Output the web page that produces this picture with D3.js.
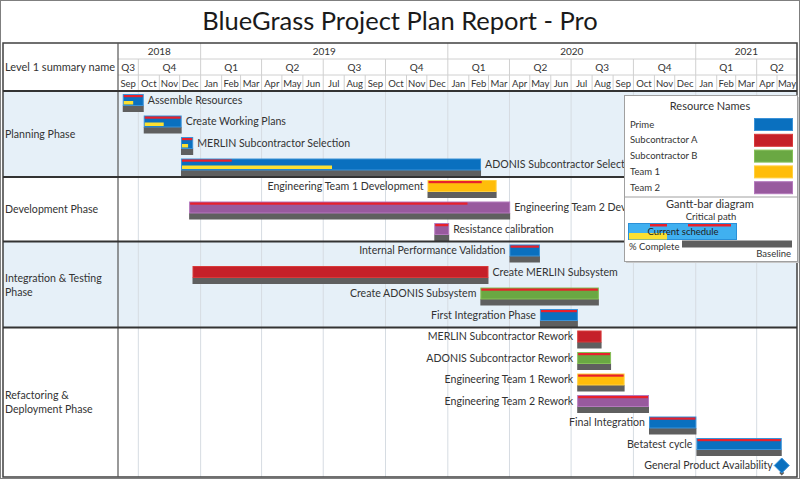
<!DOCTYPE html>
<html>
<head>
<meta charset="utf-8">
<script src="https://cdn.jsdelivr.net/npm/d3@7"></script>
<style>
  body { margin: 0; background: #fff; }
  svg { display: block; font-family: Lato, "Noto Sans", sans-serif; }
</style>
</head>
<body>
<script>
// ---- data ----
const groupLabelLines = [['Planning Phase'], ['Development Phase'], ['Integration & Testing', 'Phase'], ['Refactoring &', 'Deployment Phase']]
const groupSizes = [4, 3, 4, 7]

const taskNames = ['Assemble Resources', 'Create Working Plans', 'MERLIN Subcontractor Selection', 'ADONIS Subcontractor Selection',
  'Engineering Team 1 Development', 'Engineering Team 2 Development', 'Resistance calibration',
  'Internal Performance Validation', 'Create MERLIN Subsystem', 'Create ADONIS Subsystem', 'First Integration Phase',
  'MERLIN Subcontractor Rework', 'ADONIS Subcontractor Rework', 'Engineering Team 1 Rework', 'Engineering Team 2 Rework',
  'Final Integration', 'Betatest cycle', 'General Product Availability']
const taskResources = ['Prime', 'Prime', 'Prime', 'Prime',
  'Team 1', 'Team 2', 'Team 2',
  'Prime', 'Subcontractor A', 'Subcontractor B', 'Prime',
  'Subcontractor A', 'Subcontractor B', 'Team 1', 'Team 2', 'Prime', 'Prime', 'Prime']
const taskStarts = ['2018-09-08', '2018-10-09', '2018-12-03', '2018-12-03',
  '2019-12-02', '2018-12-15', '2019-12-12',
  '2020-04-01', '2018-12-20', '2020-02-18', '2020-05-16',
  '2020-07-10', '2020-07-10', '2020-07-10', '2020-07-10', '2020-10-24', '2021-01-02', '2021-05-08']
const taskEnds = ['2018-10-09', '2018-12-04', '2018-12-21', '2020-02-19',
  '2020-03-13', '2020-04-02', '2020-01-03',
  '2020-05-16', '2020-03-01', '2020-08-11', '2020-07-11',
  '2020-08-15', '2020-08-29', '2020-09-18', '2020-10-24', '2021-01-02', '2021-05-08', '2021-05-08']
// end of the red critical-path stripe (null = none shown)
const critEnds = ['2018-10-09', '2018-12-04', '2018-12-21', '2019-02-16',
  '2020-02-20', '2020-01-30', '2020-01-03',
  '2020-05-16', null, '2020-08-11', '2020-07-11',
  null, '2020-08-29', '2020-09-18', '2020-10-24', '2021-01-02', '2021-05-08', null]
const pctComplete = [45, 50, 50, 50, 0, 0, 0, 0, 0, 0, 0, 0, 0, 0, 0, 0, 0, 0]
const labelSide = ['right', 'right', 'right', 'right', 'left', 'right', 'right',
  'left', 'right', 'left', 'left', 'left', 'left', 'left', 'left', 'left', 'left', 'left']
const milestones = ['General Product Availability']

const resourceNames = ['Prime', 'Subcontractor A', 'Subcontractor B', 'Team 1', 'Team 2']
const resourceColors = ['#0a70bf', '#c52029', '#6aa843', '#ffbd0a', '#985a9e']
const resourceStrokes = ['#3a92d8', '#d83a3a', '#86c058', '#ffd040', '#b478bc']

const timeStart = '2018-09-01'
const timeEnd = '2021-06-01'

// ---- drawing ----
const parse = d3.timeParse('%Y-%m-%d')
const width = 800
const height = 479
const chartLeft = 118
const chartRight = 797
const chartTop = 43
const bodyTop = 91
const chartBottom = 477
const rowH = 21.5
const labelSize = 10.6

const svg = d3.select('body').append('svg')
  .attr('width', width)
  .attr('height', height)

const x = d3.scaleTime()
  .domain([parse(timeStart), parse(timeEnd)])
  .range([chartLeft, 798])

const y = d3.scaleBand()
  .domain(taskNames)
  .range([bodyTop, bodyTop + rowH * taskNames.length])

const colour = d3.scaleOrdinal().domain(resourceNames).range(resourceColors)
const strokeColour = d3.scaleOrdinal().domain(resourceNames).range(resourceStrokes)

const tasks = taskNames.map((name, i) => ({
  name,
  res: taskResources[i],
  start: parse(taskStarts[i]),
  end: parse(taskEnds[i]),
  crit: critEnds[i] ? parse(critEnds[i]) : null,
  pct: pctComplete[i],
  side: labelSide[i],
  milestone: milestones.includes(name)
}))

// outer picture border
svg.append('rect')
  .attr('x', 0.5).attr('y', 0.5)
  .attr('width', width - 1).attr('height', height - 1)
  .attr('fill', 'none').attr('stroke', '#7f7f7f')

svg.append('text')
  .attr('x', 400).attr('y', 30)
  .attr('text-anchor', 'middle')
  .attr('font-size', 25.5)
  .attr('fill', '#1a1a1a')
  .text('BlueGrass Project Plan Report - Pro')

// group backgrounds
let cum = 0
const groups = groupSizes.map((n, i) => {
  const g = { i, y0: y(taskNames[cum]), y1: y(taskNames[cum + n - 1]) + rowH, lines: groupLabelLines[i] }
  cum += n
  return g
})

svg.selectAll('rect.grp')
  .data(groups)
  .enter().append('rect')
  .attr('x', 3).attr('y', d => d.y0)
  .attr('width', chartRight - 3).attr('height', d => Math.min(d.y1, chartBottom) - d.y0)
  .attr('fill', d => d.i % 2 === 0 ? '#e6f0f8' : '#ffffff')

// quarter grid lines in body
const quarters = d3.timeMonth.every(3).range(x.domain()[0], x.domain()[1])
svg.selectAll('line.qgrid')
  .data(quarters.filter(d => +d > +x.domain()[0]))
  .enter().append('line')
  .attr('x1', d => x(d)).attr('x2', d => x(d))
  .attr('y1', bodyTop).attr('y2', chartBottom)
  .attr('stroke', '#d6dce2').attr('stroke-width', 1)

// group labels
groups.forEach(g => {
  const cy = (g.y0 + Math.min(g.y1, chartBottom)) / 2
  const n = g.lines.length
  g.lines.forEach((t, k) => {
    svg.append('text')
      .attr('x', 5)
      .attr('y', cy + (k - (n - 1) / 2) * 14 + 4)
      .attr('font-size', labelSize)
      .attr('fill', '#333')
      .text(t)
  })
})

// header
const header = svg.append('g')
const yearRow = [chartTop, 59], qRow = [59, 75], mRow = [75, bodyTop]
const years = d3.timeYear.range(d3.timeYear.floor(x.domain()[0]), x.domain()[1])
const qs = d3.timeMonth.every(3).range(d3.timeMonth.every(3).floor(x.domain()[0]), x.domain()[1])
const months = d3.timeMonth.range(x.domain()[0], x.domain()[1])

function cells(data, row, nextFn, labelFn, size) {
  data.forEach(d => {
    const a = Math.max(x(d), chartLeft)
    const b = Math.min(x(nextFn(d)), chartRight)
    if (x(d) > chartLeft) {
      header.append('line')
        .attr('x1', x(d)).attr('x2', x(d))
        .attr('y1', row[0]).attr('y2', row[1])
        .attr('stroke', '#d0d0d0')
    }
    header.append('text')
      .attr('x', (a + b) / 2)
      .attr('y', (row[0] + row[1]) / 2 + 3.5)
      .attr('text-anchor', 'middle')
      .attr('font-size', size)
      .attr('fill', '#333')
      .text(labelFn(d))
  })
}
cells(years, yearRow, d => d3.timeYear.offset(d, 1), d3.timeFormat('%Y'), 10)
cells(qs, qRow, d => d3.timeMonth.offset(d, 3), d => 'Q' + (Math.floor(d.getMonth() / 3) + 1), 10)
cells(months, mRow, d => d3.timeMonth.offset(d, 1), d3.timeFormat('%b'), 9.5)

header.selectAll('line.hsep')
  .data([59, 75])
  .enter().append('line')
  .attr('x1', chartLeft).attr('x2', chartRight)
  .attr('y1', d => d).attr('y2', d => d)
  .attr('stroke', '#d0d0d0')

header.append('text')
  .attr('x', 5).attr('y', 71)
  .attr('font-size', 11)
  .attr('fill', '#333')
  .text('Level 1 summary name')

// bars
const bars = svg.append('g')
const barH = 12

tasks.forEach(t => {
  const by = y(t.name) + 3
  if (t.milestone) {
    const cx = x(t.start), cy = by + 6
    bars.append('path')
      .attr('d', `M${cx},${cy + 5}l2.5,2.5l-2.5,2.5l-2.5,-2.5z`)
      .attr('fill', '#5f5f5f')
    bars.append('path')
      .attr('d', `M${cx},${cy - 7.5}L${cx + 7.5},${cy}L${cx},${cy + 7.5}L${cx - 7.5},${cy}Z`)
      .attr('fill', colour(t.res))
      .attr('stroke', strokeColour(t.res))
    bars.append('text')
      .attr('x', cx - 9).attr('y', cy + 3.5)
      .attr('text-anchor', 'end')
      .attr('font-size', labelSize)
      .attr('fill', '#333')
      .text(t.name)
    return
  }
  const x0 = x(t.start), x1 = x(t.end)
  // baseline
  bars.append('rect')
    .attr('x', x0).attr('y', by + barH - 0.5)
    .attr('width', x1 - x0).attr('height', 6.5)
    .attr('fill', '#5f5f5f')
  // current schedule
  bars.append('rect')
    .attr('x', x0 + 0.5).attr('y', by + 0.5)
    .attr('width', x1 - x0 - 1).attr('height', barH - 1)
    .attr('fill', colour(t.res))
    .attr('stroke', strokeColour(t.res))
  if (t.crit) {
    bars.append('rect')
      .attr('x', x0 + 1).attr('y', by + 1)
      .attr('width', Math.max(0, Math.min(x(t.crit), x1 - 1) - x0 - 1)).attr('height', 2.2)
      .attr('fill', '#e8202c')
  }
  if (t.pct > 0) {
    bars.append('rect')
      .attr('x', x0 + 1).attr('y', by + 7)
      .attr('width', (x1 - x0) * t.pct / 100).attr('height', 3.5)
      .attr('fill', '#fbe032')
  }
  const lx = t.side === 'right' ? x1 + 4 : x0 - 4
  bars.append('text')
    .attr('x', lx).attr('y', by + 9.5)
    .attr('text-anchor', t.side === 'right' ? 'start' : 'end')
    .attr('font-size', labelSize)
    .attr('fill', '#333')
    .text(t.name)
})

// frame lines
const frame = svg.append('g').attr('fill', 'none')
frame.append('rect')
  .attr('x', 3).attr('y', chartTop)
  .attr('width', chartRight - 3).attr('height', chartBottom - chartTop)
  .attr('stroke', '#404040').attr('stroke-width', 1.5)
frame.append('line')
  .attr('x1', chartLeft).attr('x2', chartLeft).attr('y1', chartTop).attr('y2', chartBottom)
  .attr('stroke', '#555').attr('stroke-width', 1.2)
frame.selectAll('line.gsep')
  .data(groups.map(g => g.y0))
  .enter().append('line')
  .attr('x1', 3).attr('x2', chartRight)
  .attr('y1', d => d).attr('y2', d => d)
  .attr('stroke', '#333').attr('stroke-width', 1.8)

// legend (drawn over the chart, as in the original)
const lg = svg.append('g').attr('transform', 'translate(624,95)')
const lw = 173, lh = 166
lg.append('rect').attr('x', 2).attr('y', 2).attr('width', lw).attr('height', lh).attr('fill', '#c8c8c8')
lg.append('rect').attr('x', 0.5).attr('y', 0.5).attr('width', lw).attr('height', lh)
  .attr('fill', '#fff').attr('stroke', '#a0a0a0')
lg.append('text').attr('x', 86).attr('y', 15).attr('text-anchor', 'middle')
  .attr('font-size', 11).attr('fill', '#333').text('Resource Names')

const item = lg.selectAll('g.item')
  .data(resourceNames)
  .enter().append('g')
  .attr('transform', (d, i) => `translate(0, ${29 + i * 15.8})`)
item.append('text').attr('x', 6).attr('y', 3.5)
  .attr('font-size', 9.5).attr('fill', '#333').text(d => d)
item.append('rect').attr('x', 130.5).attr('y', -5.5).attr('width', 38).attr('height', 12)
  .attr('fill', d => colour(d)).attr('stroke', d => strokeColour(d))

lg.append('line').attr('x1', 0).attr('x2', lw).attr('y1', 102).attr('y2', 102)
  .attr('stroke', '#a0a0a0')
lg.append('text').attr('x', 86).attr('y', 113).attr('text-anchor', 'middle')
  .attr('font-size', 11).attr('fill', '#333').text('Gantt-bar diagram')
lg.append('text').attr('x', 87).attr('y', 125).attr('text-anchor', 'middle')
  .attr('font-size', 9.5).attr('fill', '#333').text('Critical path')
lg.append('rect').attr('x', 58).attr('y', 145.5).attr('width', 110).attr('height', 7)
  .attr('fill', '#5f5f5f')
lg.append('rect').attr('x', 4.5).attr('y', 128.5).attr('width', 108).attr('height', 16)
  .attr('fill', '#40b0f0').attr('stroke', '#2a90d8')
lg.append('rect').attr('x', 26).attr('y', 129).attr('width', 17).attr('height', 2.5).attr('fill', '#e8202c')
lg.append('rect').attr('x', 64).attr('y', 129).attr('width', 43).attr('height', 2.5).attr('fill', '#e8202c')
lg.append('rect').attr('x', 5).attr('y', 138).attr('width', 38).attr('height', 6.5).attr('fill', '#fbe032')
lg.append('text').attr('x', 59).attr('y', 140).attr('text-anchor', 'middle')
  .attr('font-size', 9.5).attr('fill', '#222').text('Current schedule')
lg.append('text').attr('x', 5).attr('y', 155)
  .attr('font-size', 9.5).attr('fill', '#333').text('% Complete')
lg.append('text').attr('x', 167).attr('y', 162).attr('text-anchor', 'end')
  .attr('font-size', 9.5).attr('fill', '#333').text('Baseline')
</script>
</body>
</html>
